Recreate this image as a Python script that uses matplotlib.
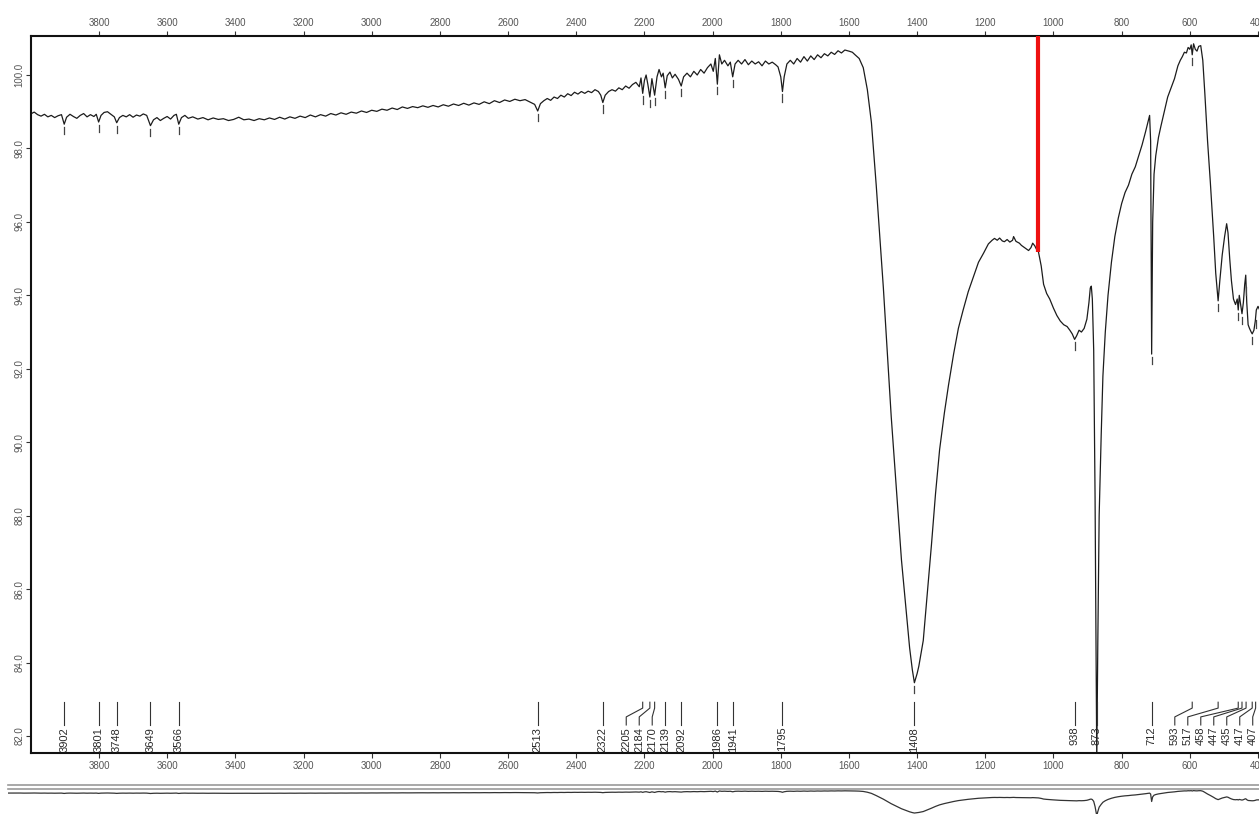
import numpy as np
import matplotlib.pyplot as plt
from matplotlib.lines import Line2D

plt.rcParams['font.family'] = ['Liberation Sans', 'DejaVu Sans']

# IR spectrum: wavenumber (cm-1) and %T
wn = [4065, 4050, 4040, 4030, 4020, 4010, 4000, 3990, 3980, 3970, 3960, 3950, 3940, 3930, 3920, 3910,
      3902, 3895, 3885, 3875, 3865, 3855, 3845, 3835, 3825, 3815, 3808, 3801, 3794, 3785, 3775, 3765,
      3755, 3748, 3740, 3730, 3720, 3710, 3700, 3690, 3680, 3670, 3660, 3649, 3640, 3630, 3620, 3610,
      3600, 3590, 3580, 3573, 3566, 3558, 3548, 3538,
      3525, 3510, 3495, 3480, 3465, 3450, 3435, 3420, 3405, 3390, 3375, 3360, 3345, 3330, 3315, 3300,
      3285, 3270, 3255, 3240, 3225, 3210, 3195, 3180, 3165, 3150, 3135, 3120, 3105, 3090, 3075, 3060,
      3045, 3030, 3015, 3000, 2985, 2970, 2955, 2940, 2925, 2910, 2895, 2880, 2865, 2850, 2835, 2820,
      2805, 2790, 2775, 2760, 2745, 2730, 2715, 2700, 2685, 2670, 2655, 2640, 2625, 2610, 2595, 2580,
      2565, 2550, 2535, 2522, 2513, 2505, 2495, 2485, 2475, 2465, 2455, 2445, 2435, 2425, 2415, 2405,
      2395, 2385, 2375, 2365, 2355, 2345, 2335, 2328, 2322, 2315, 2305, 2295, 2285, 2275, 2265, 2255,
      2245, 2235, 2225, 2215, 2210, 2205, 2200, 2195, 2190, 2184, 2178, 2170, 2163, 2157, 2150, 2145,
      2139, 2133, 2125, 2118, 2110, 2100, 2092, 2085, 2075, 2065, 2055, 2045, 2035, 2025, 2015, 2005,
      1998, 1992, 1986, 1980, 1973, 1965, 1955, 1948, 1941, 1934, 1925, 1915, 1905, 1895, 1885, 1875,
      1865, 1855, 1845, 1835, 1825, 1815, 1808, 1800, 1795, 1790, 1782, 1772, 1762, 1752, 1742, 1732,
      1722, 1712, 1702, 1692, 1682, 1672, 1662, 1652, 1642, 1632, 1622, 1612, 1600, 1590, 1582, 1570,
      1558, 1546, 1534, 1520, 1499, 1476, 1446, 1422, 1414, 1408, 1400, 1395, 1382, 1370, 1358, 1346,
      1334, 1320, 1308, 1293, 1279, 1265, 1250, 1235, 1220, 1205, 1191, 1180, 1173, 1165, 1158, 1150,
      1144, 1136, 1128, 1120, 1117, 1110, 1100, 1094, 1085, 1078, 1073, 1066, 1061, 1055, 1048, 1044,
      1036, 1029, 1020, 1011, 1000, 990, 980, 970, 960, 952, 945, 938, 932, 925, 918, 910,
      902, 896, 892, 889, 886, 882, 878, 875, 873, 870, 866, 860, 855, 848, 840, 830,
      820, 810, 800, 790, 780, 770, 760, 750, 740, 730, 722, 718, 715, 712, 709, 705,
      700, 692, 685, 675, 665, 655, 645, 635, 628, 622, 616, 610, 605, 600, 596, 593,
      589, 584, 579, 574, 568, 562, 556, 548, 540, 530, 524, 517, 512, 505, 498, 492,
      488, 483, 478, 472, 466, 461, 458, 455, 451, 447, 443, 439, 436, 433, 429, 425,
      420, 417, 412, 408, 405, 400, 395]
tr = [98.95, 98.98, 98.93, 98.97, 98.90, 98.96, 98.94, 98.99, 98.92, 98.88, 98.93, 98.86, 98.90, 98.84, 98.89, 98.92,
      98.66, 98.85, 98.93, 98.87, 98.82, 98.90, 98.95, 98.86, 98.92, 98.87, 98.93, 98.72, 98.90, 98.98, 99.00, 98.93,
      98.86, 98.70, 98.84, 98.90, 98.86, 98.92, 98.85, 98.91, 98.88, 98.94, 98.90, 98.62, 98.78, 98.84, 98.76, 98.82,
      98.87, 98.80, 98.90, 98.93, 98.66, 98.84, 98.90, 98.82,
      98.86, 98.80, 98.84, 98.78, 98.83, 98.79, 98.81, 98.76, 98.79, 98.85, 98.78, 98.80, 98.76, 98.81, 98.78, 98.83,
      98.79, 98.85, 98.80, 98.86, 98.82, 98.88, 98.84, 98.91, 98.86, 98.92, 98.88, 98.95, 98.91, 98.97, 98.93, 98.99,
      98.96, 99.02, 98.98, 99.04, 99.01, 99.07, 99.04, 99.10, 99.06, 99.13, 99.09, 99.14, 99.11, 99.16, 99.12, 99.17,
      99.13, 99.19, 99.15, 99.21, 99.17, 99.23, 99.18, 99.24, 99.20, 99.27, 99.22, 99.30, 99.25, 99.32, 99.28, 99.34,
      99.30, 99.33, 99.26, 99.20, 99.02, 99.22, 99.30, 99.36, 99.31, 99.40, 99.36, 99.45, 99.40, 99.49, 99.44, 99.53,
      99.48, 99.55, 99.50, 99.56, 99.52, 99.60, 99.55, 99.45, 99.25, 99.45, 99.55, 99.60, 99.56, 99.65, 99.60, 99.70,
      99.64, 99.74, 99.80, 99.68, 99.92, 99.50, 99.85, 100.00, 99.75, 99.40, 99.90, 99.45, 99.95, 100.15, 99.95, 100.05,
      99.65, 99.98, 100.08, 99.92, 100.02, 99.88, 99.70, 99.95, 100.05, 99.95, 100.10, 100.00, 100.15, 100.05, 100.20, 100.30,
      100.10, 100.45, 99.75, 100.55, 100.30, 100.40, 100.25, 100.35, 99.95, 100.30, 100.40, 100.30, 100.42, 100.28, 100.38, 100.30,
      100.36, 100.25, 100.38, 100.30, 100.35, 100.28, 100.22, 99.95, 99.55, 99.95, 100.30, 100.40, 100.30, 100.45, 100.35, 100.50,
      100.38, 100.52, 100.42, 100.55, 100.47, 100.58, 100.52, 100.62, 100.56, 100.66, 100.60, 100.68, 100.65, 100.62, 100.55, 100.45,
      100.20, 99.60, 98.70, 97.00, 94.20, 90.70, 86.80, 84.40, 83.80, 83.45, 83.70, 83.90, 84.60, 85.90, 87.20, 88.60,
      89.80, 90.80, 91.55, 92.40, 93.10, 93.60, 94.10, 94.50, 94.90, 95.15, 95.40, 95.50, 95.55, 95.50, 95.56, 95.48,
      95.46, 95.52, 95.45, 95.50, 95.60, 95.47, 95.42, 95.36, 95.30, 95.25, 95.22, 95.30, 95.42, 95.35, 95.22, 95.18,
      94.80, 94.30, 94.05, 93.90, 93.65, 93.45, 93.30, 93.20, 93.15, 93.05, 92.95, 92.80, 92.90, 93.05, 93.00, 93.10,
      93.35, 93.80, 94.20, 94.25, 93.90, 92.50, 88.50, 84.00, 81.30, 84.50, 88.00, 90.20, 91.80, 93.00, 94.00, 94.90,
      95.60, 96.10, 96.50, 96.80, 97.00, 97.30, 97.50, 97.80, 98.10, 98.45, 98.75, 98.90, 98.20, 92.40, 96.00, 97.30,
      97.80, 98.30, 98.60, 99.00, 99.40, 99.65, 99.90, 100.25, 100.40, 100.50, 100.62, 100.60, 100.75, 100.70, 100.82, 100.55,
      100.85, 100.70, 100.65, 100.78, 100.80, 100.40, 99.50, 98.20, 97.10, 95.60, 94.60, 93.85, 94.40, 95.10, 95.60, 95.95,
      95.70, 95.00, 94.40, 93.90, 93.75, 93.90, 93.60, 94.00, 93.75, 93.50, 93.80, 94.30, 94.55, 93.80, 93.20, 93.10,
      93.00, 92.95, 93.05, 93.30, 93.60, 93.70, 93.60]

# labelled bands
peaks = [3902, 3801, 3748, 3649, 3566, 2513, 2322, 2205, 2184, 2170, 2139, 2092,
         1986, 1941, 1795, 1408, 938, 873, 712, 593, 517, 458, 447, 435, 417, 407]

cursor_wn = 1044

xticks = list(range(3800, 399, -200))
yticks = np.arange(82, 100.1, 2)

W, H = 1259, 814
fig = plt.figure(figsize=(W / 100, H / 100), dpi=100)

# main panel
ax = fig.add_axes([30.8 / W, 61 / H, (W - 30.8) / W, 717 / H])
ax.plot(wn, tr, color='#1c1c1c', lw=0.9)
ax.set_xlim(4000, 397.1)
ax.set_ylim(81.537, 101.062)

wn_up = np.array(wn[::-1])
tr_up = np.array(tr[::-1])

# red cursor
ax.vlines(cursor_wn, np.interp(cursor_wn, wn_up, tr_up), 101.062, color='#ee1111', lw=3.0, zorder=5)

# small dashes under each band
for p in peaks:
    t = np.interp(p, wn_up, tr_up)
    ax.plot([p, p], [t - 0.08, t - 0.28], color='#444444', lw=0.9)

# spread labels so they don't overlap (right to left)
gap = 13 / 0.3412
lab = {}
prev = None
for p in sorted(peaks):
    pos = max(p, 415.5) if prev is None else max(p, prev + gap)
    lab[p] = pos
    prev = pos

for p in peaks:
    q = lab[p]
    ax.plot([p, p, q, q], [82.92, 82.76, 82.52, 82.30], color='#333333', lw=0.8)
    ax.text(q, 82.25, str(p), rotation=90, ha='center', va='top', fontsize=8, color='#2a2a2a')

ax.set_xticks(xticks)
ax.set_yticks(yticks)
ax.set_yticklabels([f'{v:.1f}' for v in yticks], rotation=90, va='center')
ax.tick_params(axis='x', top=True, labeltop=True, direction='out', length=3.5, width=0.8,
               labelsize=7, labelcolor='#555555', color='#333333', pad=2)
ax.tick_params(axis='y', direction='out', length=3.5, width=0.8,
               labelsize=7, labelcolor='#555555', color='#333333', pad=1)
for s in ['left', 'top', 'bottom']:
    ax.spines[s].set_linewidth(1.5)
    ax.spines[s].set_color('#111111')
ax.spines['right'].set_visible(False)

# overview strip at the bottom
ax2 = fig.add_axes([8 / W, 0, (W - 8) / W, 25 / H])
ax2.plot(wn, tr, color='#333333', lw=0.9)
ax2.set_xlim(4066.8, 397.1)
ax2.set_ylim(82.7, 102.1)
ax2.axis('off')

for yy in [785, 789]:
    fig.add_artist(Line2D([8 / W, 1], [1 - yy / H, 1 - yy / H], color='#9a9a9a', lw=1.2,
                          transform=fig.transFigure))

fig.savefig('out.png', dpi=100)
